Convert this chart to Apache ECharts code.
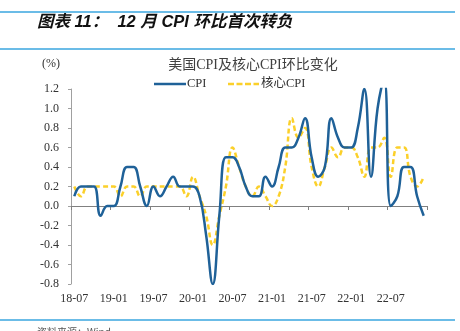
<!DOCTYPE html>
<html>
<head>
<meta charset="utf-8">
<script src="https://cdn.jsdelivr.net/npm/echarts@6/dist/echarts.min.js"></script>
<style>
html,body{margin:0;padding:0;background:#fff;}
#c{width:460px;height:331px;}
</style>
</head>
<body>
<div id="c"></div>
<script>
const months = [
 '18-07','18-08','18-09','18-10','18-11','18-12',
 '19-01','19-02','19-03','19-04','19-05','19-06','19-07','19-08','19-09','19-10','19-11','19-12',
 '20-01','20-02','20-03','20-04','20-05','20-06','20-07','20-08','20-09','20-10','20-11','20-12',
 '21-01','21-02','21-03','21-04','21-05','21-06','21-07','21-08','21-09','21-10','21-11','21-12',
 '22-01','22-02','22-03','22-04','22-05','22-06','22-07','22-08','22-09','22-10','22-11','22-12'
];
const cpi = [
 0.1,0.2,0.2,0.2,-0.1,0.0,
 0.0,0.2,0.4,0.4,0.2,0.0,0.2,0.1,0.2,0.3,0.2,0.2,
 0.2,0.1,-0.3,-0.8,-0.1,0.5,0.5,0.4,0.2,0.1,0.1,0.3,
 0.2,0.4,0.6,0.6,0.7,0.9,0.5,0.3,0.4,0.9,0.7,0.6,
 0.6,0.8,1.2,0.3,1.0,1.3,0.0,0.1,0.4,0.4,0.1,-0.1
];
const coreCpi = [
 0.2,0.1,0.2,0.2,0.2,0.2,
 0.2,0.1,0.2,0.2,0.1,0.2,0.2,0.2,0.2,0.2,0.2,0.1,
 0.3,0.1,-0.1,-0.4,-0.1,0.2,0.6,0.4,0.2,0.1,0.2,0.1,
 0.0,0.1,0.4,0.9,0.7,0.8,0.4,0.2,0.4,0.6,0.5,0.6,
 0.6,0.5,0.3,0.6,0.6,0.7,0.3,0.6,0.6,0.3,0.2,0.3
];
const yTicks = { min: -0.8, max: 1.2, step: 0.2 };

const serif = "'Liberation Serif','Noto Sans CJK SC',serif";
const blue = '#1f6198', yellow = '#fbd02a';
const chart = echarts.init(document.getElementById('c'), null, {renderer:'canvas'});
chart.setOption({
  animation: false,
  backgroundColor: '#fff',
  title: {
    text: '美国CPI及核心CPI环比变化',
    left: 248, textAlign: 'center', top: 53,
    textStyle: { fontFamily: serif, fontSize: 14, fontWeight: 'normal', color: '#404040' }
  },
  legend: { show: false },
  graphic: [
    { type: 'line', shape: {x1: 0, y1: 12, x2: 455, y2: 12}, style: {stroke: '#3aa6df', lineWidth: 1.5} },
    { type: 'line', shape: {x1: 0, y1: 49, x2: 455, y2: 49}, style: {stroke: '#3aa6df', lineWidth: 1.5} },
    { type: 'line', shape: {x1: 0, y1: 320, x2: 455, y2: 320}, style: {stroke: '#3aa6df', lineWidth: 1.5} },
    { type: 'text', left: 37, top: 14, style: { text: '图表 11：  12 月 CPI 环比首次转负', font: "italic bold 16.5px 'Liberation Sans','Noto Sans CJK SC',sans-serif", fill: '#111' } },
    { type: 'text', left: 42, top: 58, style: { text: '(%)', font: "12px 'Liberation Serif',serif", fill: '#333' } },
    { type: 'text', left: 37, top: 327, style: { text: '资料来源：Wind', font: "10px 'Noto Sans CJK SC',sans-serif", fill: '#555' } },
    { type: 'line', shape: {x1: 154, y1: 84, x2: 186, y2: 84}, style: {stroke: blue, lineWidth: 2.5} },
    { type: 'text', left: 187, top: 77, style: { text: 'CPI', font: "12.5px 'Liberation Serif',serif", fill: '#333' } },
    { type: 'line', shape: {x1: 228, y1: 84, x2: 259, y2: 84}, style: {stroke: yellow, lineWidth: 2.5, lineDash: [6, 2.5]} },
    { type: 'text', left: 261, top: 77, style: { text: '核心CPI', font: "12.5px 'Liberation Serif','Noto Sans CJK SC',serif", fill: '#333' } }
  ],
  grid: { left: 71, right: 33, top: 89, bottom: 47 },
  xAxis: [
    {
      type: 'category', data: months, boundaryGap: true,
      axisLine: { onZero: true, lineStyle: { color: '#808080', width: 1 } },
      axisTick: { show: true, interval: 5, length: 4, inside: false, lineStyle: { color: '#808080' } },
      axisLabel: { show: false },
      splitLine: { show: false }
    },
    {
      type: 'category', data: months, boundaryGap: true, position: 'bottom',
      axisLine: { show: false, onZero: false },
      axisTick: { show: false },
      axisLabel: { show: true, interval: 5, margin: 9, fontFamily: serif, fontSize: 12, color: '#333' },
      splitLine: { show: false }
    }
  ],
  yAxis: {
    type: 'value', min: yTicks.min, max: yTicks.max, interval: yTicks.step,
    axisLine: { show: true, lineStyle: { color: '#a0a0a0' } },
    axisTick: { show: true, length: 3, lineStyle: { color: '#a0a0a0' } },
    axisLabel: { margin: 12, fontFamily: serif, fontSize: 12, color: '#333',
      formatter: v => v.toFixed(1) },
    splitLine: { show: false }
  },
  series: [
    {
      name: 'CPI', type: 'line', data: cpi, xAxisIndex: 0, smooth: 0.45,
      symbol: 'none', clip: true, z: 3,
      lineStyle: { color: blue, width: 2.5 },
      itemStyle: { color: blue }
    },
    {
      name: '核心CPI', type: 'line', data: coreCpi, xAxisIndex: 0, smooth: 0.45,
      symbol: 'none', clip: true, z: 2,
      lineStyle: { color: yellow, width: 2.5, type: [5, 3] },
      itemStyle: { color: yellow }
    }
  ]
});
</script>
</body>
</html>
